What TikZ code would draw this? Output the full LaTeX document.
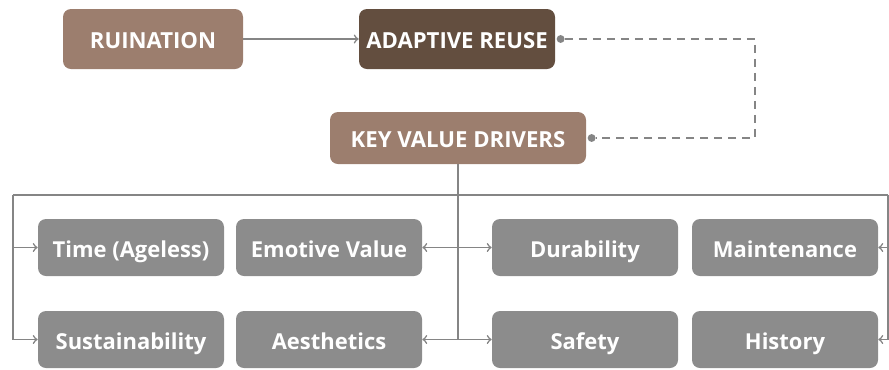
\documentclass[tikz,border=0pt]{standalone}
\usepackage{fontspec}
\setmainfont{Open Sans}[BoldFont={* Bold}]
\usetikzlibrary{arrows}

\definecolor{ruincol}{HTML}{9C7E6E}
\definecolor{reusecol}{HTML}{634E3F}
\definecolor{drivercol}{HTML}{8C8C8C}
\definecolor{linecol}{HTML}{858585}

\begin{document}
\begin{tikzpicture}[
    >=to,
    box/.style = {
      rounded corners = 0.16cm,
      text = white,
      font = \bfseries\fontsize{12.6}{14}\selectfont,
      inner sep = 0pt,
      text height = 12.2pt,
      text depth = 1pt
    },
    topbox/.style = {
      box,
      minimum height = 1.2cm
    },
    driver/.style = {
      box,
      fill = drivercol,
      minimum width = 3.72cm,
      minimum height = 1.14cm,
      font = \bfseries\fontsize{12.5}{14}\selectfont
    },
    wire/.style = {
      draw = linecol,
      line width = 0.9pt
    },
    dot/.style = {
      fill = linecol,
      circle,
      inner sep = 0pt,
      minimum size = 4.5pt
    }
  ]
  \useasboundingbox (0,0) rectangle (17.78,-7.38);

  \node[topbox, fill=ruincol, minimum width=3.6cm] (ruin) at (3.06,-0.78) {RUINATION};
  \node[topbox, fill=reusecol, minimum width=3.92cm] (reuse) at (9.14,-0.78) {ADAPTIVE REUSE};
  \node[box, fill=ruincol, minimum width=5.12cm, minimum height=1.04cm] (kvd) at (9.16,-2.76) {KEY VALUE DRIVERS};

  \node[driver] (time) at (2.62,-4.95) {Time (Ageless)};
  \node[driver] (emot) at (6.58,-4.95) {Emotive Value};
  \node[driver] (dura) at (11.70,-4.95) {Durability};
  \node[driver] (main) at (15.70,-4.95) {Maintenance};
  \node[driver] (sust) at (2.62,-6.79) {Sustainability};
  \node[driver] (aest) at (6.58,-6.79) {Aesthetics};
  \node[driver] (safe) at (11.70,-6.79) {Safety};
  \node[driver] (hist) at (15.70,-6.79) {History};

  \draw[wire, ->] (ruin) -- (reuse);

  \node[dot] (reusedot) at ([xshift=3pt]reuse.east) {};
  \node[dot] (kvddot) at ([xshift=3pt]kvd.east) {};
  \coordinate (loop) at (15.10,-0.78);
  \draw[wire, dash pattern=on 0.16cm off 0.12cm] (reusedot) -- (loop) |- (kvddot);

  \coordinate (busL) at (0.26,-3.90);
  \coordinate (busR) at (17.76,-3.90);
  \draw[wire] (busL) -- (busR);
  \draw[wire] (kvd.south) -- (kvd.south |- safe);

  \draw[wire, ->] (busL) |- (time.west);
  \draw[wire, ->] (busL) |- (sust.west);
  \draw[wire, <->] (emot.east) -- (dura.west);
  \draw[wire, <->] (aest.east) -- (safe.west);
  \draw[wire, ->] (busR) |- (main.east);
  \draw[wire, ->] (busR) |- (hist.east);

\end{tikzpicture}
\end{document}
